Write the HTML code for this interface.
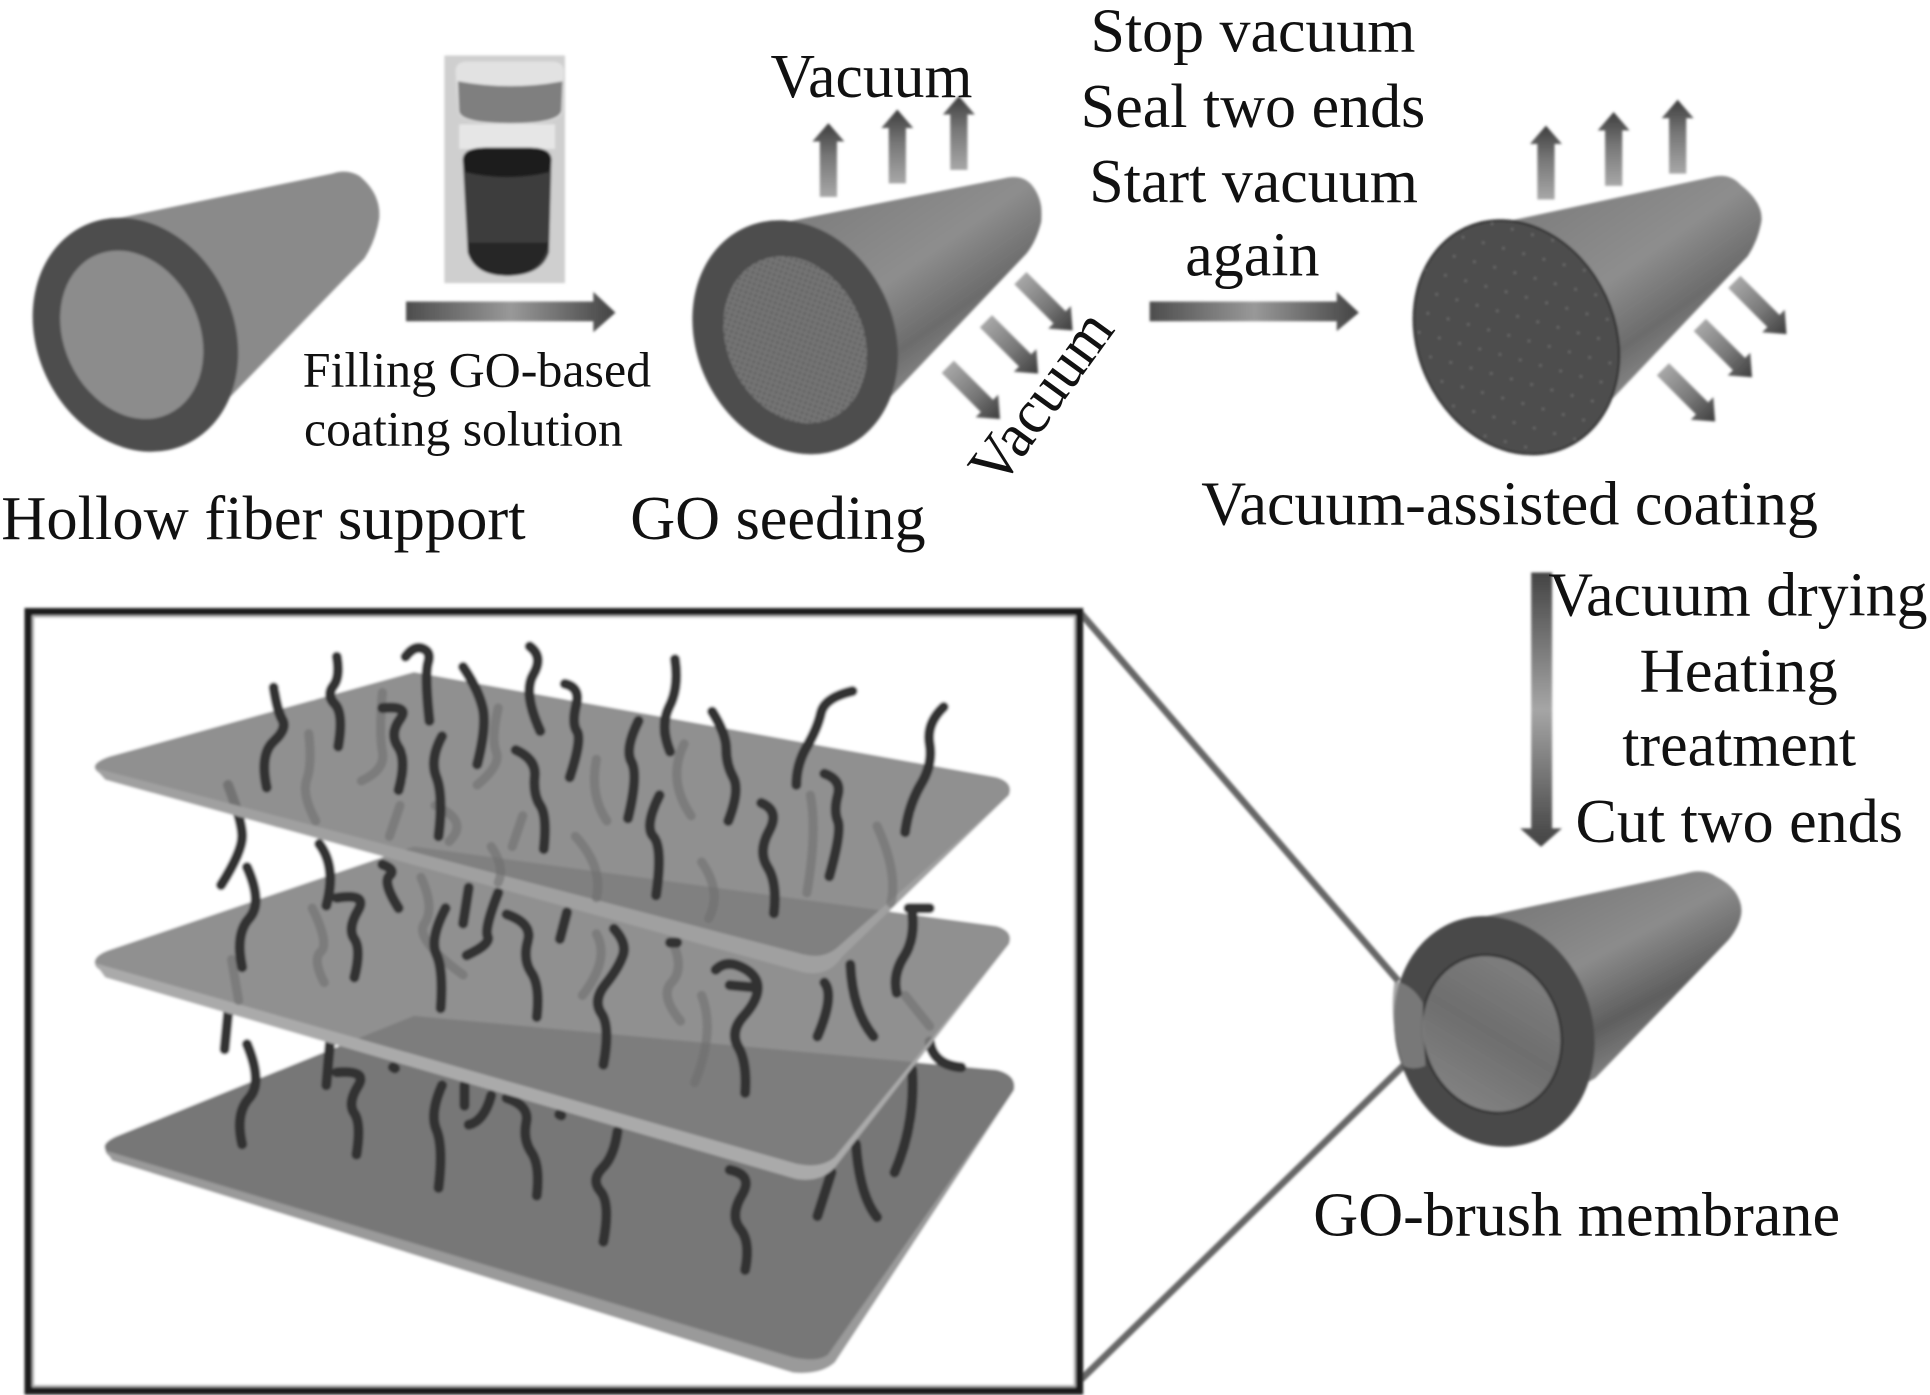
<!DOCTYPE html>
<html><head><meta charset="utf-8"><title>GO-brush membrane</title>
<style>
html,body{margin:0;padding:0;background:#fff;width:1930px;height:1395px;overflow:hidden}
svg{display:block}
text{font-family:"Liberation Serif",serif;fill:#111}
.s{fill:none;stroke:#333;stroke-width:10;stroke-linecap:round;stroke-linejoin:round;vector-effect:non-scaling-stroke}
.g{fill:none;stroke:#6c6c6c;stroke-width:9;stroke-linecap:round;stroke-linejoin:round;vector-effect:non-scaling-stroke}
</style></head><body>
<svg xmlns="http://www.w3.org/2000/svg" width="1930" height="1395" viewBox="0 0 1568 1133.4">
<defs>
<filter id="b" x="-5%" y="-5%" width="110%" height="110%"><feGaussianBlur stdDeviation="1"/></filter>
<linearGradient id="ar"><stop offset="0" stop-color="#a8a8a8"/><stop offset=".55" stop-color="#777"/><stop offset="1" stop-color="#3e3e3e"/></linearGradient>
<linearGradient id="hz"><stop offset="0" stop-color="#4d4d4d"/><stop offset=".5" stop-color="#999"/><stop offset=".9" stop-color="#555"/><stop offset="1" stop-color="#444"/></linearGradient>
<linearGradient id="vt" x1="0" y1="0" x2="0" y2="1"><stop offset="0" stop-color="#444"/><stop offset=".5" stop-color="#a6a6a6"/><stop offset=".9" stop-color="#555"/><stop offset="1" stop-color="#444"/></linearGradient>
<linearGradient id="body" x1=".25" y1=".1" x2=".75" y2=".75"><stop offset="0" stop-color="#808080"/><stop offset=".45" stop-color="#8e8e8e"/><stop offset=".75" stop-color="#6c6c6c"/><stop offset="1" stop-color="#909090"/></linearGradient>
<linearGradient id="body4" x1=".3" y1=".05" x2=".75" y2=".8"><stop offset="0" stop-color="#7a7a7a"/><stop offset=".4" stop-color="#8c8c8c"/><stop offset=".7" stop-color="#5f5f5f"/><stop offset="1" stop-color="#8e8e8e"/></linearGradient>
<linearGradient id="in4" x1="0" y1="1" x2="1" y2="0"><stop offset="0" stop-color="#8a8a8a"/><stop offset=".5" stop-color="#6e6e6e"/><stop offset="1" stop-color="#858585"/></linearGradient>
<pattern id="dots" width="6" height="6" patternUnits="userSpaceOnUse"><rect width="6" height="6" fill="#767676"/><circle cx="2" cy="2" r="1.2" fill="#5c5c5c"/><circle cx="5" cy="5" r="1.2" fill="#5c5c5c"/></pattern>
<pattern id="dots2" width="26" height="22" patternUnits="userSpaceOnUse"><rect width="26" height="22" fill="#4e4e4e"/><circle cx="5" cy="6" r=".9" fill="#7c7c7c"/><circle cx="18" cy="17" r=".9" fill="#7c7c7c"/></pattern>
<g id="arr"><polygon points="0,-7 45,-7 45,-13 60,0 45,13 45,7 0,7" fill="url(#ar)"/></g>
</defs>

<g filter="url(#b)">
<!-- cylinder 1 -->
<path d="M88,179 L270,141 Q282,137 292,143 Q310,158 308,178 Q305,196 296,210 L165,345 Z" fill="#8a8a8a"/>
<ellipse cx="110" cy="272" rx="80" ry="98" transform="rotate(-25 110 272)" fill="#4d4d4d"/>
<ellipse cx="107" cy="272" rx="55" ry="71" transform="rotate(-25 107 272)" fill="#8c8c8c"/>

<!-- vial -->
<rect x="361" y="45" width="98" height="185" fill="#cfcfcf"/>
<path d="M370,58 Q370,50 380,50 L448,50 Q458,50 458,58 L457,90 Q456,101 415,101 Q373,101 372,90 Z" fill="#e2e2e2"/>
<path d="M372,66 Q415,74 457,66 L456,90 Q454,100 415,100 Q374,100 373,90 Z" fill="#7f7f7f"/>
<rect x="373" y="101" width="78" height="20" fill="#e6e6e6"/>
<path d="M376,130 Q376,120 395,120 L430,120 Q448,120 448,130 L446,205 Q440,224 412,224 Q386,224 380,205 Z" fill="#3c3c3c"/>
<path d="M376,130 Q376,120 395,120 L430,120 Q448,120 448,130 L446,140 Q412,148 378,140 Z" fill="#1f1f1f"/>
<path d="M380,197 L446,197 Q440,224 412,224 Q386,224 380,205 Z" fill="#262626"/>

<!-- arrows A / B -->
<polygon points="330,245 482,245 482,237 500,254 482,270 482,261 330,261" fill="url(#hz)"/>
<polygon points="934,245 1086,245 1086,237 1104,254 1086,269 1086,261 934,261" fill="url(#hz)"/>

<!-- cylinder 2 -->
<path d="M625,183 L815,145 Q830,141 838,150 Q848,162 846,180 Q842,196 834,206 L702,345 Z" fill="url(#body)"/>
<ellipse cx="646" cy="274" rx="80" ry="98" transform="rotate(-25 646 274)" fill="#4d4d4d"/>
<ellipse cx="646" cy="276" rx="56" ry="71" transform="rotate(-25 646 276)" fill="url(#dots)" stroke="#4a4a4a" stroke-width="1"/>

<!-- cylinder 2 arrows -->
<use href="#arr" transform="translate(673,160) rotate(-90)"/>
<use href="#arr" transform="translate(729,149) rotate(-90)"/>
<use href="#arr" transform="translate(779,138) rotate(-90)"/>
<use href="#arr" transform="translate(829,226) rotate(45)"/>
<use href="#arr" transform="translate(801,261) rotate(45)"/>
<use href="#arr" transform="translate(770,298) rotate(45)"/>

<!-- cylinder 3 -->
<path d="M1210,183 L1390,144 Q1405,140 1414,150 Q1433,165 1431,180 Q1428,196 1420,208 L1290,345 Z" fill="url(#body)"/>
<ellipse cx="1232" cy="274" rx="80" ry="98" transform="rotate(-25 1232 274)" fill="url(#dots2)" stroke="#222" stroke-width="1.5"/>
<use href="#arr" transform="translate(1256,162) rotate(-90)"/>
<use href="#arr" transform="translate(1311,151) rotate(-90)"/>
<use href="#arr" transform="translate(1363,141) rotate(-90)"/>
<use href="#arr" transform="translate(1409,229) rotate(45)"/>
<use href="#arr" transform="translate(1381,264) rotate(45)"/>
<use href="#arr" transform="translate(1351,300) rotate(45)"/>

<!-- vertical arrow -->
<polygon points="1244,465 1261,465 1261,673 1269,673 1252,688 1235,673 1244,673" fill="url(#vt)"/>

<!-- connector lines -->
<line x1="877" y1="497" x2="1136" y2="797" stroke="#666" stroke-width="5.5"/>
<line x1="877" y1="1122" x2="1140" y2="866" stroke="#666" stroke-width="5.5"/>

<!-- cylinder 4 -->
<path d="M1195,747 L1368,710 Q1384,705 1394,712 Q1414,722 1415,740 Q1414,752 1404,764 L1296,876 L1250,900 Z" fill="url(#body4)"/>
<ellipse cx="1214" cy="838" rx="80" ry="95" transform="rotate(-18 1214 838)" fill="#4a4a4a"/>
<ellipse cx="1212" cy="840" rx="56" ry="65" transform="rotate(-18 1212 840)" fill="url(#in4)" stroke="#333" stroke-width="2"/>
<path d="M1133,797 Q1148,800 1156,815 L1158,866 Q1148,870 1140,866 Q1128,830 1133,797 Z" fill="#888" fill-opacity=".75"/>

<!-- framed panel -->
<rect x="23" y="497" width="854" height="633" fill="#fff" stroke="#1a1a1a" stroke-width="6"/>
<rect x="27" y="501" width="846" height="625" fill="none" stroke="#b0b0b0" stroke-width="1.5"/>
<g transform="translate(0,479.3) scale(.57,.417)">
  <!-- bottom plate -->
  <path d="M150,1090 Q145,1078 165,1065 L590,830 L1420,935 Q1450,945 1445,975 L1190,1500 Q1170,1530 1130,1518 L165,1110 Q150,1102 150,1090 Z" fill="#777"/>
  <path d="M150,1092 L160,1112 L1130,1525 Q1170,1530 1190,1505 L1445,975 L1180,1490 Q1165,1505 1130,1495 Z" fill="#9a9a9a"/>
  <g>
    <path class="s" d="M352 885 Q375 960 355 990 Q335 1020 345 1080"/>
    <path class="s" d="M470 885 L465 965"/>
    <path class="s" d="M480 940 Q525 935 510 967 Q495 1000 505 1020 Q515 1040 508 1100"/>
    <path class="s" d="M630 965 Q612 1020 622 1052 Q632 1085 625 1165"/>
    <path class="s" d="M662 965 L662 1005"/>
    <path class="s" d="M700 985 Q690 1035 668 1042"/>
    <path class="s" d="M722 990 Q755 1005 750 1037 Q745 1070 757 1095 Q770 1120 765 1180"/>
    <path class="s" d="M880 1055 Q875 1105 858 1127 Q842 1150 856 1172 Q870 1195 860 1270"/>
    <path class="s" d="M1040 1130 Q1075 1140 1057 1180 Q1040 1220 1055 1245 Q1070 1270 1062 1325"/>
    <path class="s" d="M1185 1135 L1165 1220"/>
    <path class="s" d="M1220 1080 Q1225 1180 1250 1222"/>
    <path class="s" d="M1300 935 Q1305 1040 1275 1135"/>
    <path class="s" d="M560 930 L563 932"/>
    <path class="s" d="M797 1022 L800 1024"/>
    <path class="s" d="M325 825 L320 895"/>
    <path class="s" d="M1325 880 Q1330 925 1370 930"/>
  </g>
  <!-- middle plate -->
  <path d="M135,725 Q135,712 155,702 L590,500 L1420,655 Q1445,665 1438,690 L1190,1110 Q1170,1135 1135,1125 L150,745 Q135,738 135,725 Z" fill="#7e7e7e" fill-opacity=".86"/>
  <path d="M135,727 L150,755 L1135,1148 Q1170,1155 1190,1125 L1438,690 L1190,1105 Q1170,1128 1135,1118 Z" fill="#aaa"/>
  <g opacity=".55">
    <path class="g" d="M445 620 Q470 690 457 705 Q445 720 462 765"/>
    <path class="g" d="M600 560 Q620 620 605 650 Q590 680 660 750"/>
    <path class="g" d="M850 670 Q870 720 830 790"/>
    <path class="g" d="M960 690 Q975 740 957 765 Q940 790 970 840"/>
    <path class="g" d="M1000 790 Q1020 860 990 960"/>
    <path class="g" d="M330 720 L340 800"/>
    <path class="g" d="M1290 790 L1325 850"/>
  </g>
  <g>
    <path class="s" d="M352 540 Q375 610 355 640 Q335 670 345 735"/>
    <path class="s" d="M455 495 Q480 540 465 615"/>
    <path class="s" d="M480 600 Q525 590 510 625 Q495 660 505 680 Q515 700 505 755"/>
    <path class="s" d="M545 535 Q565 545 555 557 Q545 570 568 620"/>
    <path class="s" d="M635 620 Q612 680 622 710 Q632 740 628 815"/>
    <path class="s" d="M668 580 L660 650"/>
    <path class="s" d="M710 590 Q690 660 695 675 Q700 690 665 712"/>
    <path class="s" d="M722 632 Q760 650 752 685 Q745 720 757 745 Q770 770 765 832"/>
    <path class="s" d="M808 628 L798 680"/>
    <path class="s" d="M875 660 Q895 690 887 715 Q880 740 862 770 Q845 800 857 825 Q870 850 860 925"/>
    <path class="s" d="M955 687 L965 687"/>
    <path class="s" d="M1020 740 Q1035 720 1057 735 Q1080 750 1080 775 Q1080 800 1060 830 Q1040 860 1052 890 Q1065 920 1062 980"/>
    <path class="s" d="M1040 770 L1080 775"/>
    <path class="s" d="M1175 765 Q1190 790 1165 870"/>
    <path class="s" d="M1212 730 Q1215 820 1245 870"/>
    <path class="s" d="M1295 620 L1325 620"/>
    <path class="s" d="M1300 625 Q1305 680 1288 715 Q1272 750 1278 785"/>
    <path class="s" d="M325 380 Q345 450 345 480 Q345 510 315 575"/>
  </g>
  <!-- top plate -->
  <path d="M135,345 Q135,335 155,325 L590,160 L1420,365 Q1445,375 1438,400 L1200,700 Q1180,725 1145,715 L150,362 Q135,355 135,345 Z" fill="#7e7e7e" fill-opacity=".86"/>
  <path d="M135,347 L150,370 L1145,745 Q1180,755 1200,715 L1438,400 L1195,695 Q1175,720 1145,710 Z" fill="#a0a0a0"/>
  <g opacity=".55">
    <path class="g" d="M440 280 Q445 340 437 370 Q430 400 450 450"/>
    <path class="g" d="M710 230 Q700 290 707 315 Q715 340 680 380"/>
    <path class="g" d="M545 200 Q540 280 545 315 Q550 350 515 372"/>
    <path class="g" d="M850 330 Q840 400 865 450"/>
    <path class="g" d="M975 300 Q950 370 985 440"/>
    <path class="g" d="M1155 400 Q1165 470 1150 590"/>
    <path class="g" d="M1250 460 Q1280 550 1270 610"/>
    <path class="g" d="M570 420 L555 480"/>
    <path class="g" d="M620 420 Q670 450 640 490"/>
    <path class="g" d="M745 440 L730 500"/>
    <path class="g" d="M820 480 Q860 540 850 600"/>
    <path class="g" d="M1000 530 Q1030 590 1010 640"/>
    <path class="g" d="M700 500 Q720 540 710 570"/>
  </g>
  <g>
    <path class="s" d="M390 190 Q395 235 402 252 Q410 270 390 295 Q370 320 380 385"/>
    <path class="s" d="M480 130 Q485 170 475 187 Q465 205 477 222 Q490 240 482 305"/>
    <path class="s" d="M578 130 Q590 108 602 114 Q615 120 610 142 Q605 165 612 255"/>
    <path class="s" d="M660 150 Q680 190 687 225 Q695 260 680 340"/>
    <path class="s" d="M755 110 Q775 130 760 165 Q745 200 770 275"/>
    <path class="s" d="M805 183 Q828 190 821 225 Q815 260 822 275 Q830 290 812 365"/>
    <path class="s" d="M962 135 Q968 190 954 227 Q940 265 955 315"/>
    <path class="s" d="M1015 237 Q1035 280 1035 310 Q1035 340 1045 365 Q1055 390 1038 450"/>
    <path class="s" d="M1215 197 Q1175 210 1170 240 Q1165 270 1150 305 Q1135 340 1135 380"/>
    <path class="s" d="M1345 228 Q1320 260 1325 300 Q1330 340 1312 380 Q1295 420 1290 472"/>
    <path class="s" d="M545 230 Q585 225 570 252 Q555 280 567 305 Q580 330 568 390"/>
    <path class="s" d="M630 285 Q612 330 622 365 Q632 400 625 480"/>
    <path class="s" d="M735 312 Q765 330 762 365 Q760 400 770 420 Q780 440 775 505"/>
    <path class="s" d="M910 255 Q890 310 900 335 Q910 360 895 445"/>
    <path class="s" d="M940 400 Q918 460 931 480 Q945 500 935 595"/>
    <path class="s" d="M1085 415 Q1112 430 1096 470 Q1080 510 1094 540 Q1108 570 1103 630"/>
    <path class="s" d="M1175 358 Q1200 370 1194 400 Q1188 430 1194 450 Q1200 470 1182 558"/>
  </g>
</g>
</g>

<!-- labels -->
<g font-size="51">
<text x="1" y="438" textLength="426" lengthAdjust="spacingAndGlyphs">Hollow fiber support</text>
<text x="512" y="438" textLength="240" lengthAdjust="spacingAndGlyphs">GO seeding</text>
<text x="626" y="79" textLength="164" lengthAdjust="spacingAndGlyphs">Vacuum</text>
<text x="886" y="42" textLength="264" lengthAdjust="spacingAndGlyphs">Stop vacuum</text>
<text x="878" y="103" textLength="280" lengthAdjust="spacingAndGlyphs">Seal two ends</text>
<text x="885" y="164" textLength="267" lengthAdjust="spacingAndGlyphs">Start vacuum</text>
<text x="963" y="224" textLength="109" lengthAdjust="spacingAndGlyphs">again</text>
<text transform="translate(812,398) rotate(-54)" textLength="161" lengthAdjust="spacingAndGlyphs">Vacuum</text>
<text x="976" y="426" textLength="501" lengthAdjust="spacingAndGlyphs">Vacuum-assisted coating</text>
<text x="1258" y="500" textLength="308" lengthAdjust="spacingAndGlyphs">Vacuum drying</text>
<text x="1332" y="562" textLength="161" lengthAdjust="spacingAndGlyphs">Heating</text>
<text x="1318" y="622" textLength="190" lengthAdjust="spacingAndGlyphs">treatment</text>
<text x="1280" y="684" textLength="266" lengthAdjust="spacingAndGlyphs">Cut two ends</text>
<text x="1067" y="1004" textLength="428" lengthAdjust="spacingAndGlyphs">GO-brush membrane</text>
</g>
<g font-size="40">
<text x="246" y="314" textLength="283" lengthAdjust="spacingAndGlyphs">Filling GO-based</text>
<text x="247" y="362" textLength="259" lengthAdjust="spacingAndGlyphs">coating solution</text>
</g>
</svg>
</body></html>
